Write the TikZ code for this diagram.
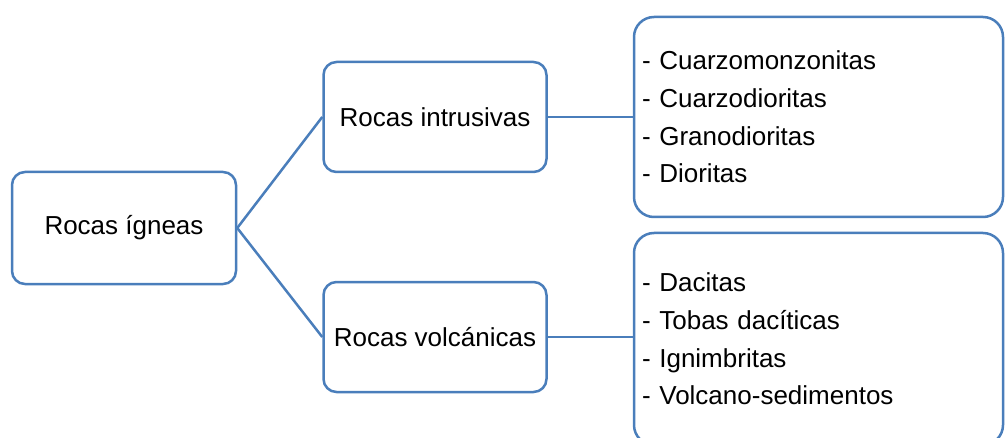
\documentclass[tikz,border=0pt]{standalone}
\usepackage{fontspec}
\setmainfont{Liberation Sans}
\usetikzlibrary{positioning}
\definecolor{boxblue}{RGB}{74,126,187}

\begin{document}
\begin{tikzpicture}[
  x=1pt, y=-1pt,
  box/.style = {draw=boxblue, line width=2.5pt, rounded corners=13pt, minimum height=110pt, minimum width=223pt, align=center, font=\fontsize{26}{31}\selectfont},
  listbox/.style = {draw=boxblue, line width=2.5pt, rounded corners=20pt, minimum width=369pt, text width=353pt, inner xsep=8pt, align=left, font=\fontsize{26}{37.7}\selectfont},
  link/.style = {draw=boxblue, line width=2.5pt}
]
  \useasboundingbox (0,0) rectangle (1006,438);

  % Root
  \node[box, minimum width=224pt, minimum height=112pt] (igneas) at (124,228) {Rocas ígneas};

  % Two kinds of rock
  \node[box, right=85pt of igneas, yshift=111pt] (intrusivas) {Rocas intrusivas};
  \node[box, right=85pt of igneas, yshift=-109pt] (volcanicas) {Rocas volcánicas};

  % Lists
  \node[listbox, minimum height=200pt, right=85pt of intrusivas] (listaint)
    {- Cuarzomonzonitas\\- Cuarzodioritas\\- Granodioritas\\- Dioritas};
  \node[listbox, minimum height=212pt, right=85pt of volcanicas, yshift=-2pt] (listavol)
    {- Dacitas\\- Tobas dacíticas\\- Ignimbritas\\- Volcano-sedimentos};

  % Connectors
  \draw[link] (igneas.east) -- (intrusivas.west);
  \draw[link] (igneas.east) -- (volcanicas.west);
  \draw[link] (intrusivas.east) -- (intrusivas.east -| listaint.west);
  \draw[link] (volcanicas.east) -- (volcanicas.east -| listavol.west);

\end{tikzpicture}
\end{document}
